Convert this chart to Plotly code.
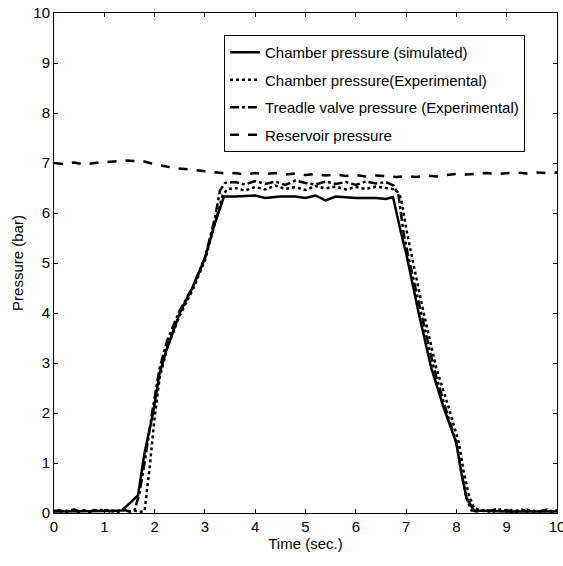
import plotly.graph_objects as go

# Chamber pressure (simulated)
sim_t = [0.0, 0.5, 1.0, 1.35, 1.67, 1.8, 1.97, 2.1, 2.25, 2.5, 2.75, 3.0, 3.2, 3.38,
         3.6, 4.0, 4.2, 4.5, 4.8, 5.0, 5.2, 5.4, 5.6, 6.0, 6.4, 6.6, 6.74,
         6.9, 7.0, 7.25, 7.5, 7.75, 8.0, 8.1, 8.2, 8.35, 9.0, 10.0]
sim_p = [0.03, 0.03, 0.04, 0.05, 0.35, 1.2, 2.0, 2.8, 3.3, 4.0, 4.5, 5.1, 5.8, 6.33,
         6.33, 6.35, 6.3, 6.33, 6.33, 6.3, 6.35, 6.25, 6.33, 6.3, 6.3, 6.28, 6.32,
         5.6, 5.2, 4.0, 2.9, 2.1, 1.4, 0.8, 0.3, 0.05, 0.03, 0.03]

# Chamber pressure (Experimental)
ce_t = [0.0, 0.1, 0.2, 0.3, 0.4, 0.5, 0.6, 0.7, 0.8, 0.9, 1.0, 1.1, 1.2, 1.3, 1.4, 1.5, 1.6, 1.7, 1.8,
        1.9, 2.0, 2.1, 2.25, 2.5, 2.75, 3.0, 3.2, 3.35, 3.45,
        3.6, 3.8, 4.0, 4.2, 4.4, 4.6, 4.8, 5.0, 5.2, 5.4, 5.6, 5.8, 6.0, 6.2, 6.4, 6.6, 6.8,
        6.9, 7.0, 7.1, 7.35, 7.6, 7.85, 8.05, 8.15, 8.25, 8.35,
        8.5, 8.6, 8.7, 8.8, 8.9, 9.0, 9.1, 9.2, 9.3, 9.4, 9.5, 9.6, 9.7, 9.8, 9.9, 10.0]
ce_p = [0.05, 0.02, 0.06, 0.03, 0.05, 0.02, 0.06, 0.03, 0.04, 0.07, 0.03, 0.06, 0.02, 0.05, 0.08, 0.03, 0.05, 0.02, 0.04,
        0.9, 1.9, 2.7, 3.3, 3.95, 4.45, 5.05, 5.8, 6.35, 6.48,
        6.5, 6.45, 6.52, 6.47, 6.55, 6.48, 6.52, 6.46, 6.54, 6.49, 6.53, 6.47, 6.52, 6.48, 6.53, 6.5, 6.47,
        6.3, 5.7, 5.2, 4.0, 2.9, 2.1, 1.4, 0.8, 0.35, 0.1,
        0.04, 0.07, 0.02, 0.05, 0.08, 0.03, 0.06, 0.02, 0.05, 0.07, 0.03, 0.05, 0.02, 0.06, 0.03, 0.05]

# Treadle valve pressure (Experimental)
tv_t = [0.0, 0.1, 0.2, 0.3, 0.4, 0.5, 0.6, 0.7, 0.8, 0.9, 1.0, 1.1, 1.2, 1.3, 1.4, 1.5,
        1.6, 1.7, 1.8, 1.95, 2.1, 2.25, 2.5, 2.75, 3.0, 3.2, 3.3, 3.4,
        3.6, 3.8, 4.0, 4.2, 4.4, 4.6, 4.8, 5.0, 5.2, 5.4, 5.6, 5.8, 6.0, 6.2, 6.4, 6.6,
        6.75, 6.85, 6.95, 7.05, 7.3, 7.55, 7.8, 8.0, 8.1, 8.2, 8.3,
        8.4, 8.5, 8.6, 8.7, 8.8, 8.9, 9.0, 9.1, 9.2, 9.3, 9.4, 9.5, 9.6, 9.7, 9.8, 9.9, 10.0]
tv_p = [0.03, 0.06, 0.02, 0.05, 0.07, 0.03, 0.05, 0.02, 0.06, 0.04, 0.08, 0.03, 0.05, 0.02, 0.06, 0.03,
        0.05, 0.4, 1.0, 2.0, 2.9, 3.45, 4.05, 4.5, 5.1, 5.9, 6.45, 6.6,
        6.62, 6.57, 6.64, 6.58, 6.63, 6.56, 6.65, 6.6, 6.57, 6.63, 6.58, 6.62, 6.56, 6.63, 6.59, 6.62,
        6.55, 6.35, 5.6, 5.1, 4.0, 2.9, 2.05, 1.4, 0.8, 0.3, 0.05,
        0.03, 0.06, 0.02, 0.05, 0.08, 0.03, 0.06, 0.02, 0.05, 0.07, 0.03, 0.06, 0.02, 0.05, 0.07, 0.03, 0.05]

# Reservoir pressure
rv_t = [round(0.2 * i, 1) for i in range(51)]
rv_p = [7.0, 6.98, 7.01, 6.97, 7.0, 7.02, 7.04, 7.05, 7.04, 7.03,
        6.97, 6.93, 6.9, 6.88, 6.86, 6.83, 6.81, 6.79, 6.8, 6.77,
        6.8, 6.78, 6.8, 6.77, 6.79, 6.76, 6.78, 6.75, 6.77, 6.74,
        6.76, 6.73, 6.75, 6.74, 6.72, 6.74, 6.72, 6.75, 6.73, 6.76,
        6.78, 6.77, 6.79, 6.8, 6.78, 6.8, 6.81, 6.79, 6.81, 6.8, 6.81]

x_ticks = list(range(0, 11))
y_ticks = list(range(0, 11))

FONT = "Liberation Sans, Arial, sans-serif"
FS = 15

fig = go.Figure()
series = [
    ("Chamber pressure (simulated)", sim_t, sim_p, "solid"),
    ("Chamber pressure(Experimental)", ce_t, ce_p, "dot"),
    ("Treadle valve pressure (Experimental)", tv_t, tv_p, "dashdot"),
    ("Reservoir pressure", rv_t, rv_p, "dash"),
]
for i, (name, t, p, dash) in enumerate(series):
    fig.add_trace(go.Scatter(x=t, y=p, mode="lines", name=name, legendgroup=f"g{i}",
                             line=dict(color="black", width=2.5, dash=dash)))

axis_common = dict(showline=True, linecolor="black", linewidth=1, mirror="ticks",
                   ticks="inside", ticklen=4, tickcolor="black", showgrid=False,
                   zeroline=False, automargin=False, ticklabeloverflow="allow",
                   tickfont=dict(size=FS, color="black", family=FONT))
fig.update_xaxes(range=[0, 10], tickvals=x_ticks,
                 title=dict(text="Time (sec.)", font=dict(size=FS, color="black", family=FONT), standoff=4),
                 **axis_common)
fig.update_yaxes(range=[0, 10], tickvals=y_ticks,
                 title=dict(text="Pressure (bar)", font=dict(size=FS, color="black", family=FONT), standoff=6),
                 **axis_common)

fig.update_layout(
    width=563, height=566,
    margin=dict(l=54, r=6, t=13, b=53),
    paper_bgcolor="white", plot_bgcolor="white",
    font=dict(family=FONT, color="black"),
    showlegend=True,
    legend=dict(x=0.338, y=0.956, xanchor="left", yanchor="top",
                bgcolor="white", bordercolor="black", borderwidth=1,
                font=dict(size=FS, color="black", family=FONT),
                tracegroupgap=5, traceorder="grouped"),
)

# remove the default page body margin so the figure sits at the page origin
fig.write_html("out.html", config={"displayModeBar": False},
               post_script="document.body.style.margin='0px';")
